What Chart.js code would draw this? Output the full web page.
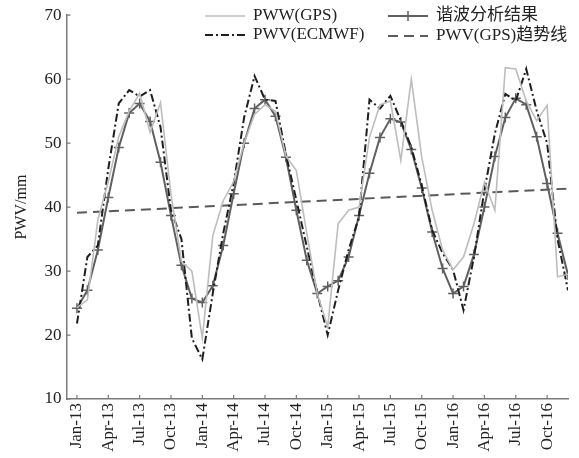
<!DOCTYPE html>
<html>
<head>
<meta charset="utf-8">
<script src="https://cdn.jsdelivr.net/npm/chart.js@4.4.0/dist/chart.umd.min.js"></script>
<style>
  html, body { margin: 0; padding: 0; background: #fff; }
  #wrap { width: 579px; height: 458px; }
</style>
</head>
<body>
<div id="wrap"><canvas id="pwvChart"></canvas></div>
<script>
// monthly values, Jan-13 .. Dec-16
const gpsPwv = [24.3, 25.5, 38, 44, 51, 55, 57.8, 51.7, 56.3, 42, 31.5, 30,
                19.5, 35.5, 41, 44, 50, 54.5, 56, 55, 48, 45.7, 35.9, 26.5,
                21.3, 37.4, 39.5, 40, 50.9, 56, 56.6, 47.3, 60, 47.8, 39.5, 33.3,
                30.2, 32.2, 37.4, 43.9, 39.5, 61.8, 61.6, 56.6, 53.5, 55.9, 29.1, 29.5];
const ecmwfPwv = [21.8, 32.2, 34, 46, 56.2, 58.3, 57.3, 58.3, 52.5, 39.5, 35, 19.5,
                  16.2, 26.5, 35.9, 43.7, 54, 60.5, 56.8, 56.6, 48.3, 41.1, 33.8, 26.6,
                  20, 27, 33.3, 38.5, 56.8, 55.4, 57.4, 53.5, 49.4, 43.4, 36.4, 32.8,
                  30.2, 23.9, 32.2, 42.6, 51.5, 57.7, 56.6, 61.6, 55.1, 50, 35, 27];
const harmonicFit = [24.2, 27, 33.3, 41.5, 49.3, 54.7, 56.2, 53.4, 47, 38.7, 30.9, 25.7,
                     25.1, 27.7, 34, 42.1, 50, 55.4, 56.8, 54.2, 47.8, 39.5, 31.7, 26.5,
                     27.6, 28.5, 32.2, 38.7, 45.3, 50.9, 53.8, 53.3, 49, 43, 36.1, 30.4,
                     26.5, 27.6, 32.6, 40, 47.9, 54, 57, 56, 51, 43.7, 35.9, 29.4];
// trend line end points (month index, value)
const trendMonths = [0, 47];
const trendValues = [39.1, 42.9];

const tickMonths = [0, 3, 6, 9, 12, 15, 18, 21, 24, 27, 30, 33, 36, 39, 42, 45];
const tickLabels = ['Jan-13', 'Apr-13', 'Jul-13', 'Oct-13', 'Jan-14', 'Apr-14', 'Jul-14', 'Oct-14',
                    'Jan-15', 'Apr-15', 'Jul-15', 'Oct-15', 'Jan-16', 'Apr-16', 'Jul-16', 'Oct-16'];
const yTicks = [10, 20, 30, 40, 50, 60, 70];

const serif = "'Liberation Serif', 'Times New Roman', 'Noto Sans CJK SC', serif";
const axisColor = '#7a7a7a';

function toPoints(values) {
    return values.map((v, i) => ({ x: i, y: v }));
}

// little inward tick marks, like the original figure
const inwardTicks = {
    id: 'inwardTicks',
    afterDraw(chart) {
        const ctx = chart.ctx;
        const xs = chart.scales.x, ys = chart.scales.y;
        ctx.save();
        ctx.strokeStyle = axisColor;
        ctx.lineWidth = 1.2;
        ctx.beginPath();
        tickMonths.forEach(m => {
            const px = xs.getPixelForValue(m);
            ctx.moveTo(px, ys.bottom);
            ctx.lineTo(px, ys.bottom - 4);
        });
        yTicks.forEach(v => {
            const py = ys.getPixelForValue(v);
            ctx.moveTo(xs.left, py);
            ctx.lineTo(xs.left + 4, py);
        });
        ctx.stroke();
        ctx.restore();
    }
};

// two-column legend drawn inside the plot
const innerLegend = {
    id: 'innerLegend',
    afterDraw(chart) {
        const ctx = chart.ctx;
        const items = [
            { ds: 0, x: 205, y: 16 },
            { ds: 1, x: 205, y: 35 },
            { ds: 2, x: 388, y: 16 },
            { ds: 3, x: 388, y: 36 }
        ];
        ctx.save();
        ctx.font = '17px ' + serif;
        ctx.textBaseline = 'middle';
        items.forEach(it => {
            const ds = chart.data.datasets[it.ds];
            ctx.strokeStyle = ds.borderColor;
            ctx.lineWidth = ds.borderWidth;
            ctx.setLineDash(ds.borderDash || []);
            ctx.beginPath();
            ctx.moveTo(it.x, it.y);
            ctx.lineTo(it.x + 40, it.y);
            ctx.stroke();
            ctx.setLineDash([]);
            if (ds.pointStyle === 'cross') {
                ctx.lineWidth = 1.5;
                ctx.beginPath();
                ctx.moveTo(it.x + 20, it.y - 5);
                ctx.lineTo(it.x + 20, it.y + 5);
                ctx.stroke();
            }
            ctx.fillStyle = '#222';
            ctx.fillText(ds.label, it.x + 48, it.y);
        });
        ctx.restore();
    }
};

new Chart(document.getElementById('pwvChart'), {
    type: 'line',
    data: {
        datasets: [
            {
                label: 'PWW(GPS)',
                data: toPoints(gpsPwv),
                borderColor: '#bdbdbd',
                borderWidth: 1.6,
                pointRadius: 0,
                tension: 0
            },
            {
                label: 'PWV(ECMWF)',
                data: toPoints(ecmwfPwv),
                borderColor: '#1e1e1e',
                borderWidth: 2,
                borderDash: [8, 3, 2, 3],
                pointRadius: 0,
                tension: 0
            },
            {
                label: '谐波分析结果',
                data: toPoints(harmonicFit),
                borderColor: '#606060',
                borderWidth: 2,
                pointStyle: 'cross',
                pointRadius: 5,
                pointBorderWidth: 1.5,
                pointBorderColor: '#606060',
                tension: 0
            },
            {
                label: 'PWV(GPS)趋势线',
                data: trendMonths.map((m, i) => ({ x: m, y: trendValues[i] })),
                borderColor: '#5a5a5a',
                borderWidth: 2,
                borderDash: [10, 6],
                pointRadius: 0
            }
        ]
    },
    options: {
        responsive: true,
        maintainAspectRatio: false,
        animation: false,
        layout: { padding: { top: 14, right: 11, left: 0, bottom: 0 } },
        plugins: {
            legend: { display: false },
            tooltip: { enabled: false }
        },
        scales: {
            x: {
                type: 'linear',
                min: -1,
                max: 47,
                grid: { display: false, drawTicks: false },
                border: { display: true, color: axisColor, width: 1.5 },
                afterBuildTicks: axis => {
                    axis.ticks = tickMonths.map(v => ({ value: v }));
                },
                afterFit: axis => { axis.height = 59; },
                ticks: {
                    autoSkip: false,
                    minRotation: 90,
                    maxRotation: 90,
                    padding: 4,
                    color: '#222',
                    font: { family: serif, size: 17 }
                    , callback: v => tickLabels[tickMonths.indexOf(v)]
                }
            },
            y: {
                min: 10,
                max: 70,
                grid: { display: false, drawTicks: false },
                border: { display: true, color: axisColor, width: 1.5 },
                afterBuildTicks: axis => {
                    axis.ticks = yTicks.map(v => ({ value: v }));
                },
                afterFit: axis => { axis.width = 66.5; },
                ticks: {
                    padding: 5,
                    color: '#222',
                    font: { family: serif, size: 17 }
                },
                title: {
                    display: true,
                    text: 'PWV/mm',
                    color: '#222',
                    font: { family: serif, size: 16 },
                    padding: { top: 12, bottom: 0 }
                }
            }
        }
    },
    plugins: [inwardTicks, innerLegend]
});
</script>
</body>
</html>
